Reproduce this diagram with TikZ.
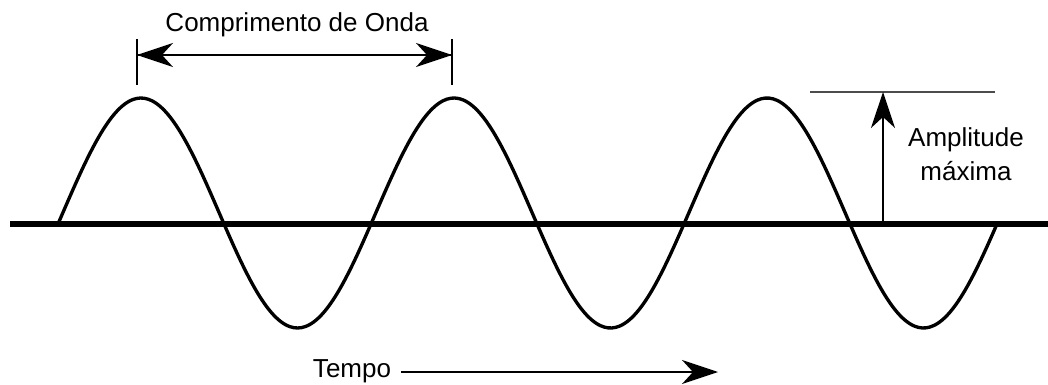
\documentclass[tikz,border=0pt]{standalone}
\usepackage{fontspec}
\setmainfont{Liberation Sans}
\usetikzlibrary{arrows.meta,positioning,calc}

\begin{document}
\begin{tikzpicture}[x=0.02cm, y=-0.02cm,
    txt/.style={font=\fontsize{14.8}{19.8}\selectfont, inner sep=0pt},
    thinline/.style={line width=0.8pt, black},
    bigtip/.style={-{Stealth[length=0.72cm, width=0.48cm, inset=0.22cm]}}]
    \useasboundingbox (0,0) rectangle (1048,385);

    % Time axis
    \draw[line width=3.6pt] (10,224) -- (1048,224);

    % Wave
    \draw[line width=1.9pt, domain=58:997, samples=240, smooth]
        plot (\x, {213 - 115*sin(1.15016*(\x-62.75))});

    % Wavelength
    \coordinate (peakA) at (137,55);
    \coordinate (peakB) at (452,55);
    \foreach \c in {peakA, peakB} {
        \draw[thinline] ($(\c)+(0,-16)$) -- ($(\c)+(0,30)$);
    }
    \draw[thinline, bigtip] (peakA) -- (peakB);
    \draw[thinline, bigtip] (peakB) -- (peakA);
    \node[txt, anchor=base] (wl) at (297,32) {Comprimento de Onda};

    % Amplitude
    \coordinate (crestL) at (810,92);
    \coordinate (crestR) at (995,92);
    \coordinate (ampTop) at (883,92);
    \coordinate (ampBase) at (883,221);
    \draw[thinline, black!70] (crestL) -- (crestR);
    \draw[thinline, bigtip] (ampBase) -- (ampTop);
    \node[txt, align=center, anchor=north] (amp) at (966,127) {Amplitude\\máxima};

    % Time
    \node[txt, anchor=base] (tempo) at (352,377) {Tempo};
    \coordinate (timeEnd) at (718,372);
    \draw[thinline, bigtip] ($(tempo.east |- timeEnd)+(10,0)$) -- (timeEnd);
\end{tikzpicture}
\end{document}
